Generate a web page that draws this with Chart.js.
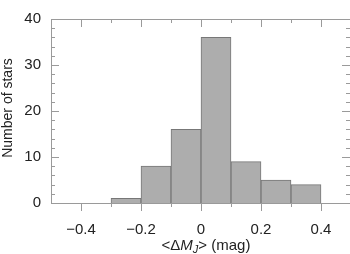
<!DOCTYPE html>
<html lang="en">
<head>
<meta charset="UTF-8">
<title>Number of stars vs mean delta M_J</title>
<script src="https://cdn.jsdelivr.net/npm/chart.js"></script>
<style>
  body { margin: 0; background: #fff; overflow: hidden; }
  #wrap { width: 351px; height: 254px; }
</style>
</head>
<body>
<div id="wrap"><canvas id="myChart"></canvas></div>
<script>
// Histogram bins (centres, width 0.1 mag) and counts
const binCenters = [-0.25, -0.15, -0.05, 0.05, 0.15, 0.25, 0.35];
const starCounts = [1, 8, 16, 36, 9, 5, 4];
const xTickValues = [-0.4, -0.2, 0, 0.2, 0.4];
const yTickValues = [0, 10, 20, 30, 40];

const FONT = '"Liberation Sans", Arial, Helvetica, sans-serif';
const FRAME = '#9a9a9a';

// frame, inward ticks and axis titles
const framePlugin = {
    id: 'framePlugin',
    afterDraw(chart) {
        const c = chart.ctx;
        const a = chart.chartArea;
        const xs = chart.scales.x;
        const ys = chart.scales.y;
        c.save();
        c.strokeStyle = FRAME;
        c.lineWidth = 1;
        c.strokeRect(a.left + 0.5, a.top + 0.5, a.right - a.left, a.bottom - a.top);

        c.beginPath();
        // x ticks every 0.1, long ones on labelled values
        for (let i = -4; i <= 4; i++) {
            const px = Math.round(xs.getPixelForValue(i / 10)) + 0.5;
            const len = i % 2 === 0 ? 8 : 4;
            c.moveTo(px, a.bottom); c.lineTo(px, a.bottom + len);
            c.moveTo(px, a.top); c.lineTo(px, a.top + len);
        }
        // y ticks every 2, long ones every 10
        for (let v = 2; v < 40; v += 2) {
            const py = Math.round(ys.getPixelForValue(v)) + 0.5;
            const len = v % 10 === 0 ? 8 : 4;
            c.moveTo(a.left, py); c.lineTo(a.left + len, py);
            c.moveTo(a.right - 1, py); c.lineTo(a.right - 1 - len, py);
        }
        c.stroke();

        // y title
        c.fillStyle = '#222';
        c.font = '14px ' + FONT;
        c.textAlign = 'center';
        c.textBaseline = 'middle';
        c.save();
        c.translate(8, (a.top + a.bottom) / 2 - 3);
        c.rotate(-Math.PI / 2);
        c.fillText('Number of stars', 0, 0);
        c.restore();

        // x title: <ΔM_J> (mag) with italic M and subscript J
        const parts = [
            { t: '<\u0394', f: '15px ' + FONT, dy: 0 },
            { t: 'M', f: 'italic 15px ' + FONT, dy: 0 },
            { t: 'J', f: 'italic 11px ' + FONT, dy: 3 },
            { t: '> (mag)', f: '15px ' + FONT, dy: 0 }
        ];
        let total = 0;
        parts.forEach(p => { c.font = p.f; p.w = c.measureText(p.t).width; total += p.w; });
        let x = 206 - total / 2;
        const base = 250;
        c.textAlign = 'left';
        c.textBaseline = 'alphabetic';
        parts.forEach(p => {
            c.font = p.f;
            c.fillText(p.t, x, base + p.dy);
            x += p.w;
        });
        c.restore();
    }
};

new Chart(document.getElementById('myChart'), {
    type: 'bar',
    data: {
        datasets: [{
            label: 'Stars',
            data: binCenters.map((x, i) => ({ x: x, y: starCounts[i] })),
            backgroundColor: '#adadad',
            borderColor: '#777777',
            borderWidth: 1,
            barPercentage: 1,
            categoryPercentage: 1
        }]
    },
    options: {
        responsive: true,
        maintainAspectRatio: false,
        animation: false,
        layout: { padding: { top: 5, right: 0, left: 0, bottom: 0 } },
        plugins: { legend: { display: false }, tooltip: { enabled: false } },
        scales: {
            x: {
                type: 'linear',
                min: -0.5,
                max: 0.5,
                offset: false,
                grid: { display: false, drawTicks: false, offset: false },
                border: { display: false },
                afterBuildTicks: s => { s.ticks = xTickValues.map(v => ({ value: v })); },
                afterFit: s => { s.height = 51; },
                ticks: {
                    padding: 18,
                    color: '#222',
                    font: { family: FONT, size: 15 },
                    maxRotation: 0,
                    callback: v => (v < 0 ? '\u2212' + Math.abs(v) : String(v))
                }
            },
            y: {
                min: 0,
                max: 40,
                grid: { display: false, drawTicks: false },
                border: { display: false },
                afterBuildTicks: s => { s.ticks = yTickValues.map(v => ({ value: v })); },
                afterFit: s => { s.width = 51; },
                ticks: {
                    padding: 10,
                    color: '#222',
                    font: { family: FONT, size: 15 }
                }
            }
        }
    },
    plugins: [framePlugin]
});
</script>
</body>
</html>
